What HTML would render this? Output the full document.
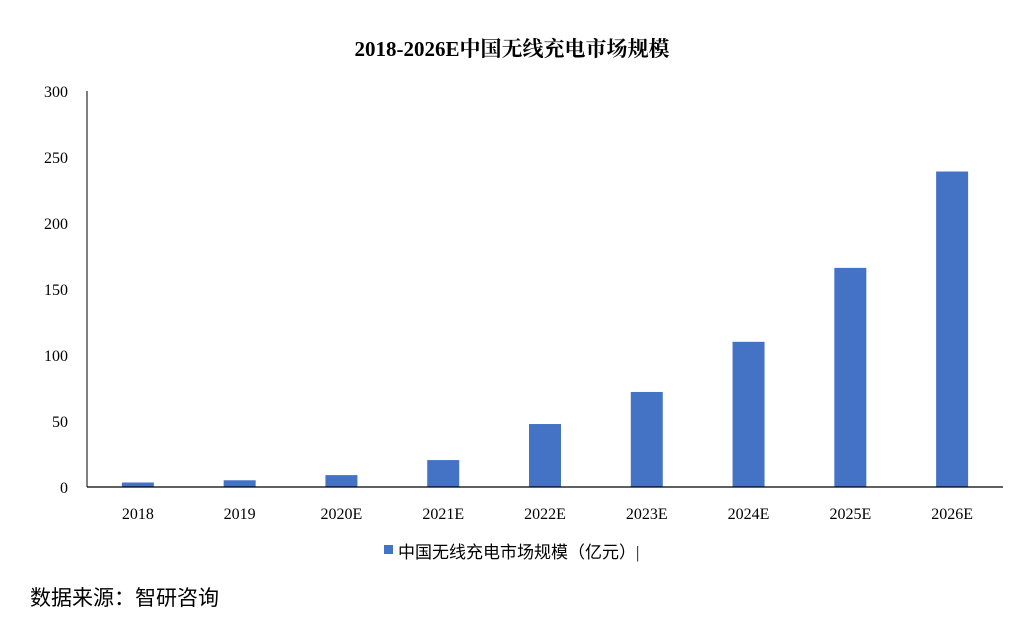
<!DOCTYPE html>
<html><head><meta charset="utf-8"><style>
body{margin:0;background:#fff;width:1024px;height:626px;overflow:hidden;font-family:"Liberation Serif","Noto Serif CJK SC",serif}
</style></head><body>
<svg width="1024" height="626" id="c">
<text x="512" y="56" text-anchor="middle" font-size="21" font-weight="bold" font-family="Liberation Serif, Noto Serif CJK SC, serif">2018-2026E中国无线充电市场规模</text>
<g id="yt"></g><g id="bars"></g><g id="xt"></g>
<line x1="87" y1="91" x2="87" y2="487" stroke="#000" stroke-width="1"/>
<line x1="87" y1="487" x2="1003" y2="487" stroke="#000" stroke-width="1.3"/>
<g>
<rect x="384" y="545" width="9" height="9" fill="#4472C4"/>
<text x="398" y="558" font-size="17" font-family="Liberation Serif, Noto Sans CJK SC, serif">中国无线充电市场规模（亿元）|</text>
</g>
<text x="30" y="605" font-size="21" font-family="Liberation Serif, Noto Sans CJK SC, serif">数据来源：智研咨询</text>
</svg>
<script>
const categories=["2018","2019","2020E","2021E","2022E","2023E","2024E","2025E","2026E"];
const values=[3.4,5.1,9,20.4,47.7,72,110,166,239];
const yTicks=[0,50,100,150,200,250,300];
const ns="http://www.w3.org/2000/svg";
const x0=87,x1=1003,y0=487,y1=91,ymax=300;
const bw=(x1-x0)/categories.length;
const ys=v=>y0-(v/ymax)*(y0-y1);
const xs=i=>x0+bw*(i+0.5);
function mk(t,a,p){const e=document.createElementNS(ns,t);for(const k in a)e.setAttribute(k,a[k]);p.appendChild(e);return e;}
const yt=document.getElementById('yt'),bars=document.getElementById('bars'),xt=document.getElementById('xt');
yTicks.forEach(v=>{const t=mk('text',{x:68,y:ys(v)+6,'text-anchor':'end','font-size':16},yt);t.textContent=v;

});
categories.forEach((c,i)=>{
const r=mk('rect',{x:xs(i)-16,y:ys(values[i]),width:32,height:y0-ys(values[i]),fill:'#4472C4'},bars);


const t=mk('text',{x:xs(i),y:519,'text-anchor':'middle','font-size':16},xt);t.textContent=c;


});
</script>
</body></html>
